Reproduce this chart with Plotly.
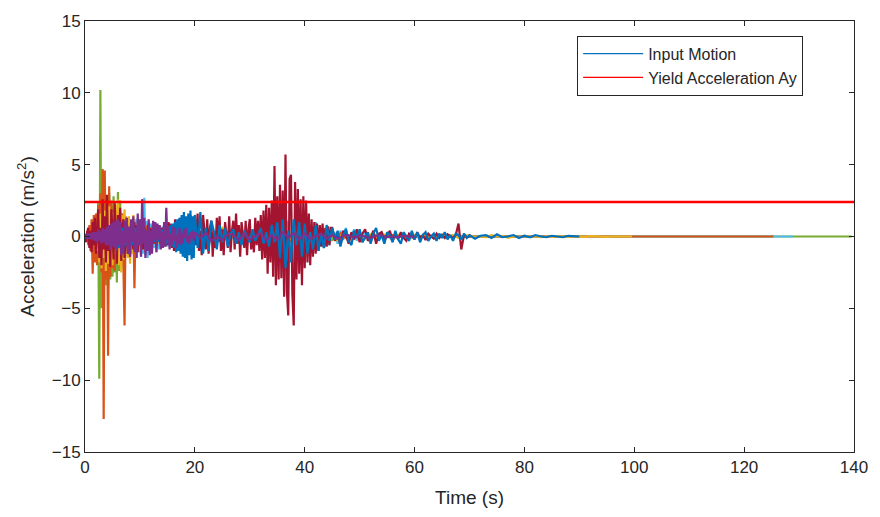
import plotly.graph_objects as go

# ---------------- data ----------------
# Each record: segments of (start time [s], step [s], values [m/s^2]) + end time of flat tail
green_a = [0.05,-0.1,0.15,-0.2,0.3,-0.25,0.4,-0.5,0.6,-0.8,
           1.2,-1.8,2.4,-9.9,10.2,-5.0,3.1,-4.8,2.9,-3.4,
           2.6,-3.6,3.0,-3.0,2.2,-2.8,2.8,-2.5,1.9,-3.2,
           3.1,-2.4,2.5,-1.9,1.6,-2.2,1.4,-1.2,0.9,-1.4,
           1.0,-0.8,0.7,-0.9,0.6,-0.5,0.5,-0.6,0.4,-0.4,
           0.5,-0.3,0.4,-0.4,0.3,-0.3,0.35,-0.25,0.3,-0.3,
           0.25,-0.2,0.3,-0.25,0.2,-0.2,0.15,-0.2,0.2,-0.15,
           0.2,-0.15,0.15,-0.2,0.15,-0.1,0.2,-0.15,0.1,-0.1,
           0.1,-0.15,0.1,-0.1,0.15,-0.1,0.1,-0.05,0.1,-0.1,
           0.05,-0.1,0.1,-0.05,0.1,-0.05,0.05,-0.1,0.05,-0.05]
green_b = [0.15,-0.2,0.1,-0.15,0.2,-0.1,0.15,-0.2,0.1,-0.15,
           0.2,-0.15,0.1,-0.2,0.15,-0.1,0.2,-0.15,0.1,-0.2,
           0.2,-0.25,0.3,-0.2,0.35,-0.3,0.4,-0.35,0.5,-0.4,
           0.6,-0.5,0.7,-0.6,0.8,-0.5,0.6,-0.7,0.5,-0.6,
           0.5,-0.1,0.6,-0.5,0.2,-0.4,0.5,0.0,-0.4,0.3,
           -0.3,0.2,0.1,-0.25,0.3,-0.1,0.0,-0.2,0.15,-0.1]
green_end = 139.6

orange_a = [0.1,-0.3,0.4,-0.6,0.8,-1.0,1.2,-2.6,1.5,-1.8,
            1.6,-2.0,2.2,-1.5,3.0,-2.5,4.7,-12.7,4.6,-3.0,
            2.8,-8.3,3.5,-2.8,2.5,-2.2,1.8,-2.4,2.0,-1.6,
            1.5,-1.8,1.2,-1.4,1.6,-1.5,-6.2,1.4,-1.2,1.0,
            0.9,-1.0,1.1,-0.9,0.8,-3.6,0.7,-0.8,0.9,-0.6,
            0.8,-0.6,0.7,-0.5,1.0,-0.6,0.6,-0.5,0.9,-0.4,
            0.6,-0.5,0.5,-0.4,0.7,-0.4,0.5,-0.3,0.4,-0.5,
            0.5,-0.4,0.3,-0.3,0.4,-0.3,0.3,-0.4,0.3,-0.2,
            0.3,-0.3,0.2,-0.2,0.3,-0.2,0.2,-0.3,0.2,-0.2,
            0.2,-0.2,0.3,-0.15,0.2,-0.2,0.15,-0.1,0.2,-0.15]
orange_b = [0.2,-0.15,0.25,-0.2,0.15,-0.2,0.2,-0.1,0.15,-0.2,
            0.2,-0.1,0.15,-0.15,0.2,-0.1,0.1,-0.15,0.2,-0.1,
            0.15,-0.2,0.2,-0.15,0.25,-0.2,0.3,-0.25,0.2,-0.3,
            0.3,-0.25,0.35,-0.3,0.3,-0.35,0.25,-0.3,0.3,-0.2,
            0.25,0.0,-0.2,0.2,-0.25,0.1,-0.15,0.2,0.0,-0.15,
            0.15,-0.1,0.0,0.2,-0.15,0.1,-0.05,-0.15,0.1,0.0,
            0.1,-0.1,0.0,0.15,-0.1,0.0,0.05,-0.1,0.05,0.0,
            0.05,-0.05,0.1,0.0,-0.05,0.05,-0.1,0.0,0.05,-0.05]
orange_end = 125.3

yellow_a = [0.05,-0.1,0.1,-0.2,0.2,-0.3,0.3,-0.4,0.5,-0.6,
            0.8,-1.0,1.4,-1.8,1.6,-2.2,2.0,-1.5,1.8,-2.4,
            1.5,-1.9,2.1,-1.6,1.3,-2.0,1.7,-1.2,2.2,-1.8,
            2.6,-2.0,1.8,-2.5,1.5,-1.6,1.9,-1.3,1.2,-1.5,
            1.4,-1.9,1.0,-1.2,1.5,-1.0,0.9,-1.4,0.8,-1.0,
            1.1,-0.8,0.9,-0.9,0.7,-1.0,0.8,-0.6,0.7,-0.8,
            0.6,-0.7,0.8,-0.5,0.6,-0.6,0.5,-0.5,0.7,-0.4,
            0.5,-0.5,0.4,-0.4,0.6,-0.3,0.5,-0.4,0.3,-0.4,
            0.4,-0.3,0.3,-0.3,0.4,-0.2,0.3,-0.3,0.2,-0.3,
            0.3,-0.2,0.3,-0.2,0.2,-0.3,0.2,-0.2,0.3,-0.2]
yellow_b = [0.4,-0.1,0.5,-0.4,0.2,0.6,-0.3,0.1,-0.4,0.3,
            -0.2,0.4,0.1,-0.5,0.3,-0.1,0.4,-0.3,0.0,-0.4,
            0.3,0.0,-0.3,0.4,-0.1,0.2,-0.3,0.25,-0.1,-0.2,
            0.3,-0.1,0.15,-0.2,0.2,0.05,-0.25,0.1,0.2,-0.15,
            0.1,-0.15,0.15,0.0,-0.1,0.15,-0.05,0.1,-0.1,0.05,
            0.1,-0.05,0.0,-0.05,0.1,0.0,0.05,-0.1,0.0,-0.05,
            0.05,0.0,0.03,-0.05,0.0,-0.03,0.03,0.0,-0.03,0.02,
            0.0,-0.02,0.02,0.0,0.01,-0.02,0.0,0.01,0.0,-0.01]
yellow_end = 99.6

purple_a = [0.1,-0.1,0.2,-0.15,0.2,-0.2,0.25,-0.2,0.3,-0.3,
            0.3,-0.4,0.5,-0.3,0.4,-0.5,0.6,-0.4,0.5,-0.6,
            0.7,-0.6,0.8,-0.9,0.9,-0.7,1.0,-0.8,1.1,-1.0,
            1.2,-0.6,1.0,-1.3,0.4,-1.2,1.1,-0.5,1.3,-1.2,
            0.7,-1.4,1.2,-0.4,1.4,-1.1,0.3,-1.5,1.6,-0.6,
            1.2,-1.4,2.6,-0.5,1.3,-1.5,0.4,-1.0,1.2,-1.3,
            0.4,-1.2,1.1,-0.3,1.0,-1.1,0.9,-0.2,0.8,-0.9,
            0.3,-0.8,1.0,-0.7,2.0,-0.2,0.7,-0.9,0.2,-0.6,
            0.7,-0.3,0.6,-0.8,0.1,-0.5,0.6,-0.6,0.2,-0.5,
            0.5,-0.1,0.6,-0.4,0.1,-0.5,0.3,-0.1,0.4,-0.3]
purple_b = [0.3,-0.1,0.25,-0.3,0.0,-0.25,0.2,0.1,-0.25,0.2,
            -0.2,0.0,0.25,-0.3,0.1,-0.25,0.3,-0.05,0.25,-0.2,
            0.2,-0.15,0.0,0.2,-0.15,0.1,-0.15,0.05,0.1,-0.1,
            0.1,0.0,-0.1,0.05,0.1,-0.05,0.0,-0.05,0.05,0.0]
purple_end = 60.0

lblue_a = [0.05,-0.05,0.1,-0.1,0.1,-0.15,0.15,-0.1,0.2,-0.2,
           0.2,-0.3,0.3,-0.25,0.4,-0.3,0.35,-0.4,0.4,-0.35,
           0.5,-0.4,0.45,-0.5,0.6,-0.5,0.5,-0.6,0.7,-0.5,
           0.6,-0.7,0.8,-0.6,0.7,-0.9,0.8,-0.7,0.9,-1.0,
           1.0,-0.9,1.1,-1.2,0.9,-1.3,1.2,-1.0,1.3,-1.1,
           1.2,-1.4,1.0,-1.2,2.7,-1.3,1.1,-1.5,1.0,-1.2,
           0.9,-1.0,1.0,-0.8,0.9,-1.1,0.8,-0.9,0.7,-0.8,
           0.7,-0.6,0.8,-0.7,0.6,-0.7,0.5,-0.6,0.6,-0.5,
           0.5,-0.5,0.4,-0.6,0.5,-0.4,0.4,-0.4,0.3,-0.4,
           0.4,-0.3,0.3,-0.3,0.4,-0.3,0.3,-0.2,0.3,-0.3]
lblue_b = [0.3,-0.3,0.4,-0.3,0.3,-0.4,0.3,-0.3,0.35,-0.3,
           0.3,-0.25,0.3,-0.3,0.25,-0.3,0.3,-0.2,0.3,-0.3,
           0.35,-0.3,0.4,-0.4,0.5,-0.4,0.6,-0.5,0.7,-0.6,
           0.9,-0.8,1.2,-1.0,1.1,-1.3,1.0,-1.1,0.9,-1.2,
           0.8,-0.4,0.3,-0.9,1.0,-0.2,0.5,-0.8,0.2,-0.6,
           0.5,0.1,-0.5,0.4,-0.2,0.6,-0.4,0.0,0.5,-0.3,
           0.2,-0.4,0.3,0.1,-0.3,0.3,-0.1,-0.2,0.3,-0.2,
           0.1,0.2,-0.2,0.1,-0.15,0.2,0.0,-0.15,0.1,-0.1]
lblue_end = 128.9

blue_a = [0.05,-0.05,0.1,-0.1,0.15,-0.1,0.1,-0.15,0.2,-0.15,
          0.2,-0.2,0.25,-0.3,0.3,-0.25,0.3,-0.35,0.4,-0.3,
          0.4,-0.5,0.5,-0.6,0.7,-0.5,0.6,-0.7,0.8,-0.6,
          0.7,-0.8,0.9,-0.7,0.6,-0.8,0.7,-0.6,0.8,-0.7,
          0.6,-0.7,0.5,-0.6,0.7,-0.5,0.6,-0.6,0.5,-0.5,
          0.5,-0.6,0.6,-0.4,0.5,-0.5,0.4,-0.5,0.5,-0.4,
          0.4,-0.5,0.5,-0.4,0.6,-0.5,0.4,-0.4,0.5,-0.5,
          0.5,-0.4,0.6,-0.6,0.5,-0.5,0.7,-0.6,0.8,-0.7,
          0.9,-0.8,1.0,-1.1,1.2,-1.0,1.3,-1.2,1.5,-1.4,
          1.7,-1.5,1.4,-1.7,1.6,-1.3,1.8,-1.6,1.4,-1.5]
blue_b = [1.5,-0.8,1.7,-1.2,0.6,-1.0,1.1,0.3,-0.9,0.8,
          -0.4,0.6,-0.7,0.2,0.5,-0.5,0.3,-0.6,0.4,0.0,
          -0.4,0.5,-0.3,0.1,0.6,-0.5,0.3,-0.7,0.8,-0.4,
          1.0,-1.5,1.2,-2.2,0.4,-1.8,1.2,-0.6,1.0,-1.4,
          0.9,-1.2,0.3,-0.9,0.8,-1.0,0.2,-0.8,0.8,-0.3,
          0.6,-0.2,0.4,-0.7,0.1,0.5,-0.3,-0.6,0.4,-0.1,
          0.5,-0.4,-0.1,0.3,-0.5,0.2,0.6,-0.3,0.1,-0.5,
          0.3,0.1,-0.4,0.4,-0.2,-0.5,0.3,0.0,-0.3,0.4,
          -0.2,0.3,-0.4,0.1,0.3,-0.3,0.0,0.2,-0.3,0.2,
          -0.1,0.3,-0.2,0.1,-0.3,0.2,0.1,-0.2,0.2,-0.1]
blue_c = [0.1,-0.15,0.05,0.1,-0.1,0.15,-0.05,0.0,0.1,-0.1,
          0.05,-0.05,0.1,0.0,-0.05,0.05,0.0,-0.05,0.05,0.0]
blue_end = 90.0

red_a = [0.2,-0.4,0.3,0.6,-0.8,0.4,-1.1,1.0,-0.6,1.3,
         -1.2,0.8,1.9,-1.5,0.6,-2.0,2.6,-0.9,1.4,-1.8,
         2.9,-1.0,0.8,-2.1,1.9,0.5,-1.6,2.4,-0.7,-1.9,
         1.5,-0.4,2.0,-1.7,0.6,1.2,-1.5,0.3,1.3,-1.2,
         0.6,-1.4,1.1,0.2,-0.9,1.0,-0.5,0.8,-1.1,0.4,
         0.9,-0.6,0.2,-0.9,0.7,0.1,-0.7,0.8,-0.3,0.6,
         -0.7,0.4,0.8,-0.5,0.2,-0.7,0.7,-0.2,0.5,-0.6,
         0.6,-0.2,0.8,-0.7,0.3,-0.6,1.0,-0.4,0.9,-0.8,
         0.5,-1.0,1.2,-0.3,1.0,-0.9,0.4,1.3,-0.8,-1.1,
         1.4,-0.6,1.0,-1.2,0.5,-0.9,1.5,-0.7,1.2,-1.0]
red_b = [1.4,-0.6,1.6,-1.0,0.4,-1.3,1.5,0.2,-0.9,1.2,
         -1.2,0.6,1.1,-1.4,0.3,-0.8,1.3,-0.4,1.4,-1.0,
         0.5,-1.3,1.0,0.2,-0.8,1.4,-1.1,0.4,1.1,-0.9,
         1.6,-0.5,0.8,-1.4,1.0,0.1,-0.8,1.1,-1.3,0.5,
         1.2,-0.9,0.3,-1.1,1.3,-0.6,1.1,-1.0,1.5,-1.6,
         1.8,-1.5,2.2,-2.6,2.0,-1.8,2.5,-2.8,4.9,-3.4,
         2.8,-3.0,3.6,-2.9,3.2,-4.2,5.7,-3.8,-5.5,4.0,
         4.3,-4.0,-6.2,3.8,-3.0,3.3,-2.6,2.6,-3.4,2.8,
         -2.2,2.5,-1.8,1.6,-2.0,1.2,-1.4,1.0,-1.2,0.9,
         -1.0,0.8,-0.7,0.9,-0.8,0.6,-0.7,0.7,-0.6,0.6]
red_c = [0.6,-0.3,0.2,-0.6,0.4,0.1,-0.5,0.3,-0.2,0.5,
         -0.4,0.2,0.5,-0.3,-0.1,0.4,-0.5,0.2,0.3,-0.3,
         0.1,0.4,-0.3,0.2,-0.2,0.3,-0.1,-0.3,0.2,0.1,
         -0.2,0.3,-0.1,0.1,-0.25,0.2,0.0,-0.15,0.2,-0.1,
         0.1,-0.1,0.15,0.0,-0.1,0.1,0.9,-0.9,0.1,-0.05]
red_end = 70.0

yield_acc = 2.4
x_limits = [0, 140]
y_limits = [-15, 15]
legend_labels = ["Input Motion", "Yield Acceleration Ay"]

# ---------------- build ----------------
def build(segments, t_end):
    t, v = [], []
    for t0, dt, vals in segments:
        for i, val in enumerate(vals):
            t.append(round(t0 + i * dt, 4))
            v.append(val)
    t += [t[-1] + 0.5, t_end]
    v += [0.0, 0.0]
    return t, v

records = [
    # (name, colour, segments, end)  -- drawing order bottom -> top
    ("Record 5", "#77AC30", [(0, 0.2, green_a), (20, 0.5, green_b)], green_end),
    ("Record 6", "#4DBEEE", [(0, 0.2, lblue_a), (20, 0.5, lblue_b)], lblue_end),
    ("Record 2", "#D95319", [(0, 0.2, orange_a), (20, 0.5, orange_b)], orange_end),
    ("Record 3", "#EDB120", [(0, 0.2, yellow_a), (20, 1.0, yellow_b)], yellow_end),
    ("Record 7", "#A2142F", [(0, 0.2, red_a), (20, 0.25, red_b), (45, 0.5, red_c)], red_end),
    ("Input Motion", "#0072BD", [(0, 0.2, blue_a), (20, 0.5, blue_b), (70, 1.0, blue_c)], blue_end),
    ("Record 4", "#7E2F8E", [(0, 0.2, purple_a), (20, 1.0, purple_b)], purple_end),
]

fig = go.Figure()
for name, col, segs, tend in records:
    t, v = build(segs, tend)
    fig.add_trace(go.Scatter(x=t, y=v, mode="lines", name=name,
                             line=dict(color=col, width=2.2), showlegend=False))

fig.add_trace(go.Scatter(x=x_limits, y=[yield_acc, yield_acc], mode="lines",
                         name="Yield Acceleration Ay", showlegend=False,
                         line=dict(color="#FF0000", width=2.5)))

# legend entries drawn with thin sample lines, as in the reference
for lab, col in zip(legend_labels, ["#0072BD", "#FF0000"]):
    fig.add_trace(go.Scatter(x=[None], y=[None], mode="lines", name=lab,
                             line=dict(color=col, width=1.2), showlegend=True))

axis_common = dict(showline=True, linecolor="#262626", linewidth=1, mirror="ticks",
                   ticks="inside", ticklen=5, tickcolor="#262626",
                   showgrid=False, zeroline=False,
                   tickfont=dict(family="Liberation Sans, Arial", size=17, color="#262626"),
                   title_font=dict(family="Liberation Sans, Arial", size=19, color="#262626"))

fig.update_layout(
    width=880, height=517,
    margin=dict(l=85, r=26, t=17, b=63),
    paper_bgcolor="white", plot_bgcolor="white",
    xaxis=dict(range=x_limits, dtick=20, title=dict(text="Time (s)", standoff=14), **axis_common),
    yaxis=dict(range=y_limits, dtick=5, title=dict(text="Acceleration (m/s<sup>2</sup>)", standoff=12),
               **axis_common),
    legend=dict(x=0.640, y=0.966, xanchor="left", yanchor="top",
                bgcolor="white", bordercolor="#262626", borderwidth=1,
                font=dict(family="Liberation Sans, Arial", size=16, color="#262626"),
                tracegroupgap=0, itemwidth=60),
    showlegend=True,
)

fig.write_html("out.html")
